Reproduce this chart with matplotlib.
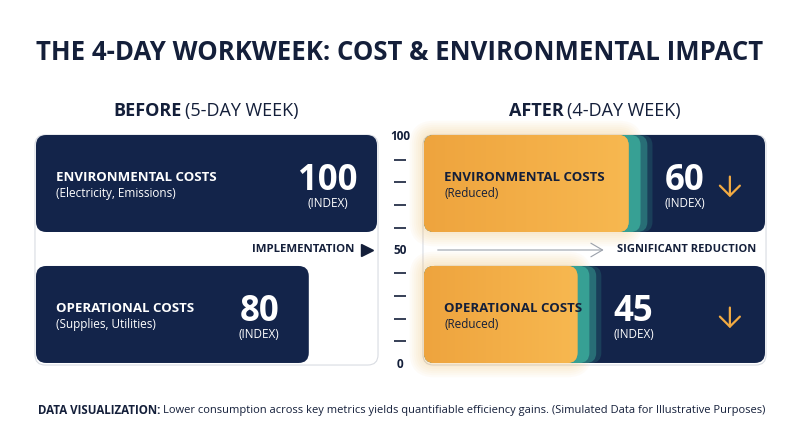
import numpy as np
import matplotlib.pyplot as plt
from matplotlib.patches import FancyBboxPatch
from matplotlib.colors import LinearSegmentedColormap

# data
metrics = ["ENVIRONMENTAL COSTS", "OPERATIONAL COSTS"]
before_notes = ["(Electricity, Emissions)", "(Supplies, Utilities)"]
after_notes = ["(Reduced)", "(Reduced)"]
before_vals = [100, 80]
after_vals = [60, 45]
scale_labels = [0, 50, 100]
scale_minor = [10, 20, 30, 40, 60, 70, 80, 90]

NAVY = "#13244a"
DARK = "#141f3a"
ORANGE = "#f3ad45"
TEAL = "#3aa99a"

plt.rcParams["font.family"] = ["Open Sans", "DejaVu Sans"]

W, H = 800, 447
fig = plt.figure(figsize=(8, 4.47), dpi=100)
fig.patch.set_facecolor("white")


def fx(x):
    return x / W


def fy(y):
    return 1 - y / H


def fig_text(x, y, s, **kw):
    fig.text(fx(x), fy(y), s, **kw)


# titles
fig_text(400, 52, "THE 4-DAY WORKWEEK: COST & ENVIRONMENTAL IMPACT", ha="center", va="center",
         fontsize=18.5, fontweight="bold", color=DARK)
fig_text(182, 111, "BEFORE", ha="right", va="center", fontsize=13, fontweight="bold", color=DARK)
fig_text(185, 111, "(5-DAY WEEK)", ha="left", va="center", fontsize=13, color=DARK)
fig_text(564, 111, "AFTER", ha="right", va="center", fontsize=13, fontweight="bold", color=DARK)
fig_text(567, 111, "(4-DAY WEEK)", ha="left", va="center", fontsize=13, color=DARK)

# footer
fig_text(38, 410, "DATA VISUALIZATION:", ha="left", va="center", fontsize=8.3, fontweight="bold", color=DARK)
fig_text(163, 410, "Lower consumption across key metrics yields quantifiable efficiency gains. "
         "(Simulated Data for Illustrative Purposes)", ha="left", va="center", fontsize=8.0, color=DARK)

# panel axes: 1 data unit = PX pixels both ways so rounded corners stay round
PX = 3.41
top, bottom = 135, 364
ymax = (bottom - top) / PX
row_h = 97 / PX
row_y = [ymax - row_h, 0.3]
mid_y = (bottom - 250) / PX


def panel_axes(left):
    ax = fig.add_axes([fx(left), fy(bottom), 341 / W, (bottom - top) / H])
    ax.set_xlim(0, 100)
    ax.set_ylim(0, ymax)
    ax.axis("off")
    return ax


def rbox(ax, x, y, w, h, r=3.0, **kw):
    p = FancyBboxPatch((x, y), w, h, boxstyle=f"round,pad=0,rounding_size={r}",
                       mutation_aspect=1, clip_on=False, **kw)
    ax.add_patch(p)
    return p


def row_texts(ax, y0, name, note, value, vx, name_color):
    ax.text(6, y0 + row_h * 0.565, name, color=name_color, fontsize=9.5, fontweight="bold",
            ha="left", va="center", zorder=5)
    ax.text(6, y0 + row_h * 0.40, note, color=name_color, fontsize=8.5,
            ha="left", va="center", zorder=5)
    ax.text(vx, y0 + row_h * 0.53, str(value), color="white", fontsize=25, fontweight="bold",
            ha="center", va="center", zorder=5)
    ax.text(vx, y0 + row_h * 0.29, "(INDEX)", color="white", fontsize=8.5,
            ha="center", va="center", zorder=5)


# BEFORE panel
axl = panel_axes(36)
rbox(axl, -0.3, -0.3, 100.6, ymax + 0.3, facecolor="white", edgecolor="#d9dce2", lw=0.8, zorder=0)
for i in range(2):
    y0 = row_y[i]
    v = before_vals[i]
    rbox(axl, 0, y0, v, row_h, facecolor=NAVY, edgecolor="none", zorder=2)
    row_texts(axl, y0, metrics[i], before_notes[i], v, v - 14.5, "white")
axl.text(93.5, mid_y, "IMPLEMENTATION", color=DARK, fontsize=8.2, fontweight="bold",
         ha="right", va="center")
axl.plot([97.2], [mid_y], marker=">", markersize=8, color=DARK, clip_on=False)

# scale in the middle
axs = fig.add_axes([fx(385), fy(364), 30 / W, (364 - 137) / H])
axs.set_xlim(0, 1)
axs.set_ylim(0, 100)
axs.axis("off")
for v in scale_labels:
    axs.text(0.5, v, str(v), ha="center", va="center", fontsize=8.5, fontweight="bold", color=DARK)
axs.plot([0.5] * len(scale_minor), scale_minor, ls="none", marker="_", markersize=8,
         markeredgewidth=1.2, color=DARK)

# AFTER panel
axr = panel_axes(424)
rbox(axr, -0.3, -0.3, 100.6, ymax + 0.3, facecolor="white", edgecolor="#d9dce2", lw=0.8, zorder=0)
cmap = LinearSegmentedColormap.from_list("og", ["#eea43e", "#f3ae47", "#f7b850"])
grad = np.linspace(0, 1, 256).reshape(1, -1)
for i in range(2):
    y0 = row_y[i]
    v = after_vals[i]
    # soft orange glow
    for k in range(1, 8):
        pad = k * 0.6
        rbox(axr, -pad, y0 - pad, v + 2 * pad, row_h + 2 * pad, r=3 + pad,
             facecolor="#f6b24a", edgecolor="none", alpha=0.04, zorder=1)
    rbox(axr, 0, y0, 100, row_h, facecolor=NAVY, edgecolor="none", zorder=2)
    rbox(axr, 0, y0, v + 7, row_h, facecolor=TEAL, edgecolor="none", alpha=0.2, zorder=3)
    rbox(axr, 0, y0, v + 5.5, row_h, facecolor=TEAL, edgecolor="none", alpha=0.45, zorder=3)
    rbox(axr, 0, y0, v + 3.5, row_h, facecolor=TEAL, edgecolor="none", alpha=0.85, zorder=3)
    ob = rbox(axr, 0, y0, v, row_h, facecolor=ORANGE, edgecolor="none", zorder=4)
    im = axr.imshow(grad, extent=[0, v, y0, y0 + row_h], cmap=cmap, aspect="auto", zorder=4.5)
    im.set_clip_path(ob)
    row_texts(axr, y0, metrics[i], after_notes[i], v, v + 16.5, DARK)
    axr.annotate("", xy=(89.7, y0 + row_h * 0.33), xytext=(89.7, y0 + row_h * 0.60),
                 arrowprops=dict(arrowstyle="->,head_width=0.45,head_length=0.45",
                                 color="#f2aa42", lw=1.6, mutation_scale=16), zorder=6)
axr.set_xlim(0, 100)
axr.set_ylim(0, ymax)
axr.annotate("", xy=(53.5, mid_y), xytext=(3.2, mid_y),
             arrowprops=dict(arrowstyle="->,head_width=0.35,head_length=0.6",
                             color="#9aa0aa", lw=0.8, mutation_scale=14))
axr.text(56.5, mid_y, "SIGNIFICANT REDUCTION", color=DARK, fontsize=8.0, fontweight="bold",
         ha="left", va="center")

fig.savefig("out.png", dpi=100)
